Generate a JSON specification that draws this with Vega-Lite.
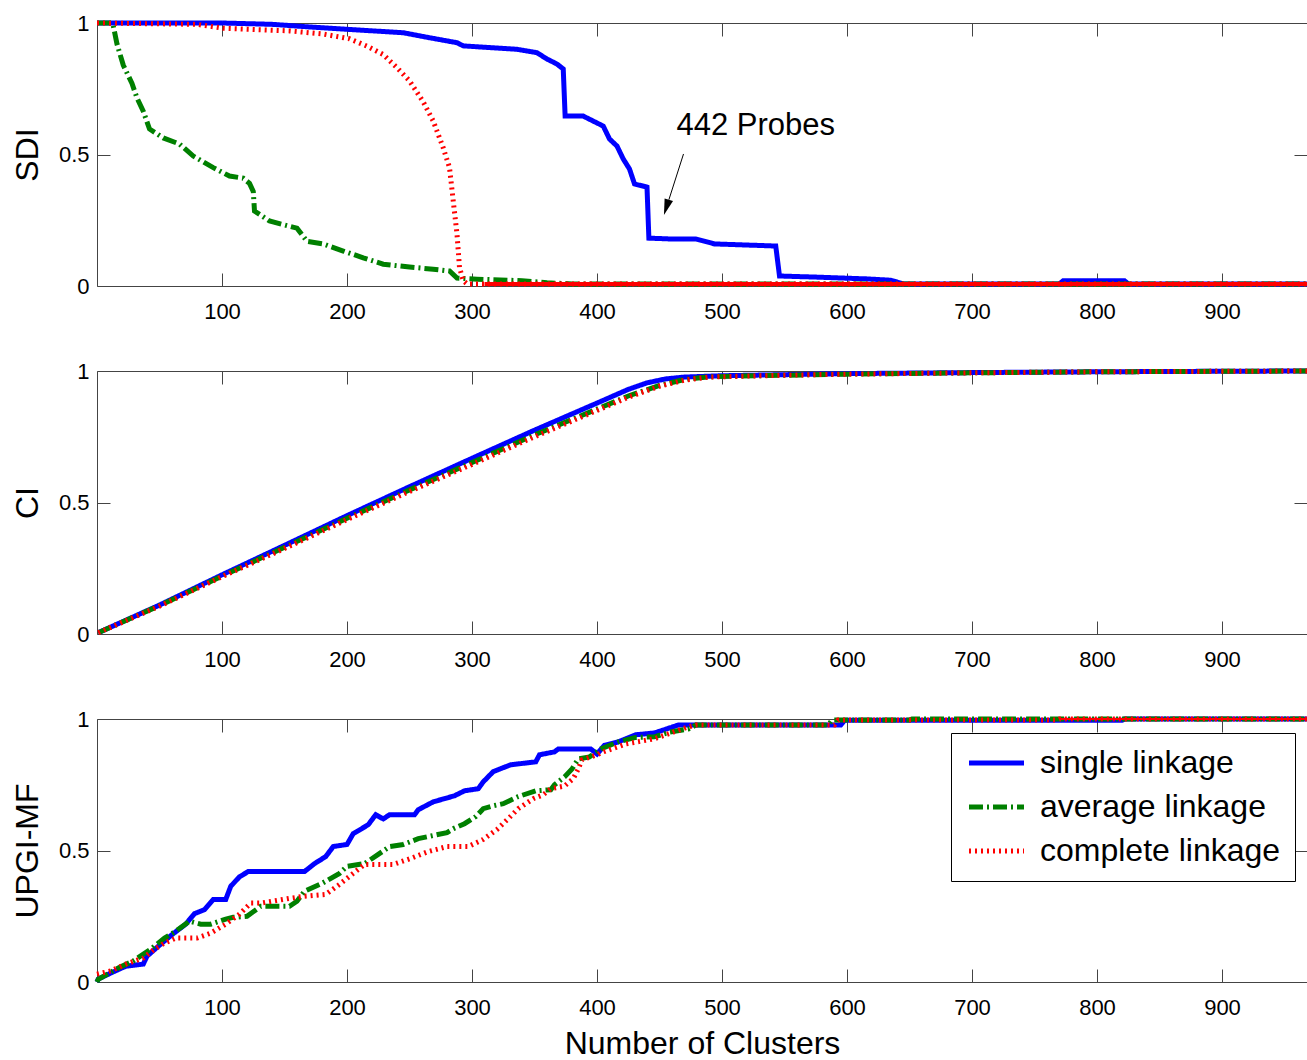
{
  "$schema": "https://vega.github.io/schema/vega-lite/v6.json",
  "padding": {"left": 10, "top": 11, "right": 0, "bottom": 0},
  "background": "white",
  "config": {
    "font": "Liberation Sans",
    "view": {"stroke": "#444", "strokeWidth": 1},
    "axis": {
      "labelFont": "Liberation Sans", "labelFontSize": 22, "labelFontWeight": "normal", "labelColor": "#000",
      "titleFont": "Liberation Sans", "titleFontSize": 32, "titleFontWeight": "normal", "titleColor": "#000",
      "domain": false, "ticks": false, "grid": true, "gridColor": "#444", "gridOpacity": 1, "gridWidth": 1
    },
    "axisX": {"gridDash": [13, 237, 13], "labelPadding": 15, "titlePadding": 10},
    "axisY": {"gridDash": [13, 1184, 13], "labelPadding": 8, "titlePadding": 14, "format": "~g"},
    "line": {"strokeCap": "butt", "strokeJoin": "miter"}
  },
  "datasets": {
    "sdi": [
      {"method": "single linkage", "n": 0, "v": 1}, {"method": "single linkage", "n": 100, "v": 1}, {"method": "single linkage", "n": 140, "v": 0.995}, {"method": "single linkage", "n": 170, "v": 0.985}, {"method": "single linkage", "n": 200, "v": 0.976}, {"method": "single linkage", "n": 245, "v": 0.963}, {"method": "single linkage", "n": 266, "v": 0.944}, {"method": "single linkage", "n": 288, "v": 0.925}, {"method": "single linkage", "n": 293, "v": 0.913}, {"method": "single linkage", "n": 336, "v": 0.9}, {"method": "single linkage", "n": 352, "v": 0.887}, {"method": "single linkage", "n": 360, "v": 0.863}, {"method": "single linkage", "n": 368, "v": 0.844}, {"method": "single linkage", "n": 373, "v": 0.825}, {"method": "single linkage", "n": 374.5, "v": 0.646}, {"method": "single linkage", "n": 389, "v": 0.646}, {"method": "single linkage", "n": 405, "v": 0.608}, {"method": "single linkage", "n": 410, "v": 0.559}, {"method": "single linkage", "n": 416, "v": 0.532}, {"method": "single linkage", "n": 421, "v": 0.483}, {"method": "single linkage", "n": 426, "v": 0.445}, {"method": "single linkage", "n": 430, "v": 0.388}, {"method": "single linkage", "n": 440, "v": 0.376}, {"method": "single linkage", "n": 441.5, "v": 0.182}, {"method": "single linkage", "n": 458, "v": 0.179}, {"method": "single linkage", "n": 479, "v": 0.179}, {"method": "single linkage", "n": 494, "v": 0.16}, {"method": "single linkage", "n": 543, "v": 0.152}, {"method": "single linkage", "n": 546, "v": 0.038}, {"method": "single linkage", "n": 574, "v": 0.034}, {"method": "single linkage", "n": 616, "v": 0.027}, {"method": "single linkage", "n": 635, "v": 0.022}, {"method": "single linkage", "n": 645, "v": 0.008}, {"method": "single linkage", "n": 770, "v": 0.008}, {"method": "single linkage", "n": 773, "v": 0.02}, {"method": "single linkage", "n": 822, "v": 0.02}, {"method": "single linkage", "n": 825, "v": 0.008}, {"method": "single linkage", "n": 968, "v": 0.008},
      {"method": "average linkage", "n": 0, "v": 1}, {"method": "average linkage", "n": 12, "v": 1}, {"method": "average linkage", "n": 13, "v": 0.99}, {"method": "average linkage", "n": 16, "v": 0.92}, {"method": "average linkage", "n": 21, "v": 0.84}, {"method": "average linkage", "n": 28, "v": 0.77}, {"method": "average linkage", "n": 32, "v": 0.715}, {"method": "average linkage", "n": 37, "v": 0.665}, {"method": "average linkage", "n": 42, "v": 0.597}, {"method": "average linkage", "n": 53, "v": 0.563}, {"method": "average linkage", "n": 66, "v": 0.54}, {"method": "average linkage", "n": 77, "v": 0.494}, {"method": "average linkage", "n": 93, "v": 0.45}, {"method": "average linkage", "n": 106, "v": 0.418}, {"method": "average linkage", "n": 117, "v": 0.41}, {"method": "average linkage", "n": 122, "v": 0.39}, {"method": "average linkage", "n": 125, "v": 0.36}, {"method": "average linkage", "n": 126, "v": 0.285}, {"method": "average linkage", "n": 138, "v": 0.247}, {"method": "average linkage", "n": 160, "v": 0.22}, {"method": "average linkage", "n": 168, "v": 0.17}, {"method": "average linkage", "n": 181, "v": 0.16}, {"method": "average linkage", "n": 197, "v": 0.133}, {"method": "average linkage", "n": 213, "v": 0.107}, {"method": "average linkage", "n": 229, "v": 0.083}, {"method": "average linkage", "n": 250, "v": 0.072}, {"method": "average linkage", "n": 269, "v": 0.064}, {"method": "average linkage", "n": 282, "v": 0.057}, {"method": "average linkage", "n": 288, "v": 0.03}, {"method": "average linkage", "n": 304, "v": 0.026}, {"method": "average linkage", "n": 340, "v": 0.02}, {"method": "average linkage", "n": 360, "v": 0.012}, {"method": "average linkage", "n": 380, "v": 0.008}, {"method": "average linkage", "n": 968, "v": 0.008},
      {"method": "complete linkage", "n": 0, "v": 1}, {"method": "complete linkage", "n": 80, "v": 0.995}, {"method": "complete linkage", "n": 101, "v": 0.98}, {"method": "complete linkage", "n": 154, "v": 0.97}, {"method": "complete linkage", "n": 181, "v": 0.958}, {"method": "complete linkage", "n": 202, "v": 0.94}, {"method": "complete linkage", "n": 216, "v": 0.912}, {"method": "complete linkage", "n": 229, "v": 0.88}, {"method": "complete linkage", "n": 240, "v": 0.83}, {"method": "complete linkage", "n": 250, "v": 0.78}, {"method": "complete linkage", "n": 261, "v": 0.7}, {"method": "complete linkage", "n": 269, "v": 0.627}, {"method": "complete linkage", "n": 277, "v": 0.525}, {"method": "complete linkage", "n": 282, "v": 0.45}, {"method": "complete linkage", "n": 285, "v": 0.323}, {"method": "complete linkage", "n": 288, "v": 0.197}, {"method": "complete linkage", "n": 290, "v": 0.07}, {"method": "complete linkage", "n": 293, "v": 0.02}, {"method": "complete linkage", "n": 296, "v": 0.008}, {"method": "complete linkage", "n": 310, "v": 0.008}, {"method": "complete linkage", "n": 968, "v": 0.008}
    ],
    "ci": [
      {"method": "single linkage", "n": 1, "v": 0.005}, {"method": "single linkage", "n": 50, "v": 0.11}, {"method": "single linkage", "n": 100, "v": 0.225}, {"method": "single linkage", "n": 150, "v": 0.337}, {"method": "single linkage", "n": 200, "v": 0.45}, {"method": "single linkage", "n": 250, "v": 0.56}, {"method": "single linkage", "n": 300, "v": 0.668}, {"method": "single linkage", "n": 350, "v": 0.775}, {"method": "single linkage", "n": 400, "v": 0.878}, {"method": "single linkage", "n": 425, "v": 0.93}, {"method": "single linkage", "n": 440, "v": 0.955}, {"method": "single linkage", "n": 455, "v": 0.97}, {"method": "single linkage", "n": 470, "v": 0.977}, {"method": "single linkage", "n": 500, "v": 0.982}, {"method": "single linkage", "n": 550, "v": 0.986}, {"method": "single linkage", "n": 600, "v": 0.99}, {"method": "single linkage", "n": 700, "v": 0.994}, {"method": "single linkage", "n": 800, "v": 0.997}, {"method": "single linkage", "n": 900, "v": 0.999}, {"method": "single linkage", "n": 968, "v": 1},
      {"method": "average linkage", "n": 1, "v": 0.005}, {"method": "average linkage", "n": 50, "v": 0.108}, {"method": "average linkage", "n": 100, "v": 0.22}, {"method": "average linkage", "n": 150, "v": 0.33}, {"method": "average linkage", "n": 200, "v": 0.44}, {"method": "average linkage", "n": 250, "v": 0.548}, {"method": "average linkage", "n": 300, "v": 0.652}, {"method": "average linkage", "n": 350, "v": 0.757}, {"method": "average linkage", "n": 400, "v": 0.855}, {"method": "average linkage", "n": 425, "v": 0.905}, {"method": "average linkage", "n": 450, "v": 0.945}, {"method": "average linkage", "n": 470, "v": 0.968}, {"method": "average linkage", "n": 490, "v": 0.978}, {"method": "average linkage", "n": 550, "v": 0.984}, {"method": "average linkage", "n": 600, "v": 0.988}, {"method": "average linkage", "n": 700, "v": 0.993}, {"method": "average linkage", "n": 800, "v": 0.997}, {"method": "average linkage", "n": 968, "v": 1},
      {"method": "complete linkage", "n": 1, "v": 0.005}, {"method": "complete linkage", "n": 50, "v": 0.106}, {"method": "complete linkage", "n": 100, "v": 0.218}, {"method": "complete linkage", "n": 150, "v": 0.325}, {"method": "complete linkage", "n": 200, "v": 0.435}, {"method": "complete linkage", "n": 250, "v": 0.542}, {"method": "complete linkage", "n": 300, "v": 0.645}, {"method": "complete linkage", "n": 350, "v": 0.75}, {"method": "complete linkage", "n": 400, "v": 0.85}, {"method": "complete linkage", "n": 425, "v": 0.9}, {"method": "complete linkage", "n": 450, "v": 0.942}, {"method": "complete linkage", "n": 470, "v": 0.965}, {"method": "complete linkage", "n": 490, "v": 0.977}, {"method": "complete linkage", "n": 550, "v": 0.984}, {"method": "complete linkage", "n": 600, "v": 0.988}, {"method": "complete linkage", "n": 700, "v": 0.993}, {"method": "complete linkage", "n": 800, "v": 0.997}, {"method": "complete linkage", "n": 968, "v": 1}
    ],
    "upgi": [
      {"method": "single linkage", "n": 0, "v": 0}, {"method": "single linkage", "n": 1, "v": 0.011}, {"method": "single linkage", "n": 11, "v": 0.034}, {"method": "single linkage", "n": 23, "v": 0.06}, {"method": "single linkage", "n": 37, "v": 0.068}, {"method": "single linkage", "n": 40, "v": 0.098}, {"method": "single linkage", "n": 51, "v": 0.144}, {"method": "single linkage", "n": 60, "v": 0.18}, {"method": "single linkage", "n": 71, "v": 0.22}, {"method": "single linkage", "n": 78, "v": 0.26}, {"method": "single linkage", "n": 86, "v": 0.275}, {"method": "single linkage", "n": 93, "v": 0.314}, {"method": "single linkage", "n": 103, "v": 0.314}, {"method": "single linkage", "n": 107, "v": 0.364}, {"method": "single linkage", "n": 114, "v": 0.4}, {"method": "single linkage", "n": 121, "v": 0.42}, {"method": "single linkage", "n": 166, "v": 0.42}, {"method": "single linkage", "n": 174, "v": 0.45}, {"method": "single linkage", "n": 183, "v": 0.477}, {"method": "single linkage", "n": 189, "v": 0.515}, {"method": "single linkage", "n": 200, "v": 0.523}, {"method": "single linkage", "n": 205, "v": 0.564}, {"method": "single linkage", "n": 217, "v": 0.598}, {"method": "single linkage", "n": 223, "v": 0.636}, {"method": "single linkage", "n": 229, "v": 0.62}, {"method": "single linkage", "n": 234, "v": 0.636}, {"method": "single linkage", "n": 254, "v": 0.636}, {"method": "single linkage", "n": 257, "v": 0.655}, {"method": "single linkage", "n": 269, "v": 0.685}, {"method": "single linkage", "n": 286, "v": 0.708}, {"method": "single linkage", "n": 294, "v": 0.727}, {"method": "single linkage", "n": 305, "v": 0.735}, {"method": "single linkage", "n": 309, "v": 0.761}, {"method": "single linkage", "n": 317, "v": 0.8}, {"method": "single linkage", "n": 331, "v": 0.826}, {"method": "single linkage", "n": 351, "v": 0.837}, {"method": "single linkage", "n": 354, "v": 0.864}, {"method": "single linkage", "n": 366, "v": 0.875}, {"method": "single linkage", "n": 369, "v": 0.886}, {"method": "single linkage", "n": 395, "v": 0.886}, {"method": "single linkage", "n": 400, "v": 0.867}, {"method": "single linkage", "n": 406, "v": 0.9}, {"method": "single linkage", "n": 417, "v": 0.913}, {"method": "single linkage", "n": 431, "v": 0.94}, {"method": "single linkage", "n": 446, "v": 0.947}, {"method": "single linkage", "n": 465, "v": 0.977}, {"method": "single linkage", "n": 595, "v": 0.977}, {"method": "single linkage", "n": 598, "v": 0.995}, {"method": "single linkage", "n": 820, "v": 0.995}, {"method": "single linkage", "n": 822, "v": 1}, {"method": "single linkage", "n": 968, "v": 1},
      {"method": "average linkage", "n": 0, "v": 0}, {"method": "average linkage", "n": 1, "v": 0.01}, {"method": "average linkage", "n": 17, "v": 0.053}, {"method": "average linkage", "n": 29, "v": 0.08}, {"method": "average linkage", "n": 43, "v": 0.125}, {"method": "average linkage", "n": 54, "v": 0.167}, {"method": "average linkage", "n": 63, "v": 0.193}, {"method": "average linkage", "n": 74, "v": 0.231}, {"method": "average linkage", "n": 83, "v": 0.22}, {"method": "average linkage", "n": 91, "v": 0.22}, {"method": "average linkage", "n": 103, "v": 0.239}, {"method": "average linkage", "n": 109, "v": 0.246}, {"method": "average linkage", "n": 120, "v": 0.25}, {"method": "average linkage", "n": 131, "v": 0.288}, {"method": "average linkage", "n": 154, "v": 0.288}, {"method": "average linkage", "n": 160, "v": 0.307}, {"method": "average linkage", "n": 166, "v": 0.345}, {"method": "average linkage", "n": 180, "v": 0.375}, {"method": "average linkage", "n": 194, "v": 0.413}, {"method": "average linkage", "n": 200, "v": 0.44}, {"method": "average linkage", "n": 214, "v": 0.45}, {"method": "average linkage", "n": 225, "v": 0.485}, {"method": "average linkage", "n": 234, "v": 0.515}, {"method": "average linkage", "n": 245, "v": 0.523}, {"method": "average linkage", "n": 257, "v": 0.545}, {"method": "average linkage", "n": 280, "v": 0.568}, {"method": "average linkage", "n": 285, "v": 0.583}, {"method": "average linkage", "n": 294, "v": 0.602}, {"method": "average linkage", "n": 303, "v": 0.629}, {"method": "average linkage", "n": 309, "v": 0.659}, {"method": "average linkage", "n": 317, "v": 0.67}, {"method": "average linkage", "n": 325, "v": 0.678}, {"method": "average linkage", "n": 337, "v": 0.705}, {"method": "average linkage", "n": 351, "v": 0.727}, {"method": "average linkage", "n": 363, "v": 0.731}, {"method": "average linkage", "n": 366, "v": 0.75}, {"method": "average linkage", "n": 374, "v": 0.78}, {"method": "average linkage", "n": 380, "v": 0.81}, {"method": "average linkage", "n": 385, "v": 0.848}, {"method": "average linkage", "n": 394, "v": 0.856}, {"method": "average linkage", "n": 403, "v": 0.886}, {"method": "average linkage", "n": 417, "v": 0.913}, {"method": "average linkage", "n": 431, "v": 0.93}, {"method": "average linkage", "n": 446, "v": 0.932}, {"method": "average linkage", "n": 458, "v": 0.95}, {"method": "average linkage", "n": 473, "v": 0.962}, {"method": "average linkage", "n": 479, "v": 0.977}, {"method": "average linkage", "n": 585, "v": 0.977}, {"method": "average linkage", "n": 588, "v": 0.996}, {"method": "average linkage", "n": 650, "v": 0.996}, {"method": "average linkage", "n": 652, "v": 1}, {"method": "average linkage", "n": 968, "v": 1},
      {"method": "complete linkage", "n": 0, "v": 0.03}, {"method": "complete linkage", "n": 11, "v": 0.042}, {"method": "complete linkage", "n": 23, "v": 0.068}, {"method": "complete linkage", "n": 37, "v": 0.091}, {"method": "complete linkage", "n": 46, "v": 0.125}, {"method": "complete linkage", "n": 54, "v": 0.148}, {"method": "complete linkage", "n": 63, "v": 0.167}, {"method": "complete linkage", "n": 80, "v": 0.167}, {"method": "complete linkage", "n": 91, "v": 0.186}, {"method": "complete linkage", "n": 103, "v": 0.22}, {"method": "complete linkage", "n": 114, "v": 0.258}, {"method": "complete linkage", "n": 123, "v": 0.3}, {"method": "complete linkage", "n": 131, "v": 0.3}, {"method": "complete linkage", "n": 154, "v": 0.318}, {"method": "complete linkage", "n": 166, "v": 0.326}, {"method": "complete linkage", "n": 183, "v": 0.333}, {"method": "complete linkage", "n": 194, "v": 0.371}, {"method": "complete linkage", "n": 205, "v": 0.413}, {"method": "complete linkage", "n": 214, "v": 0.447}, {"method": "complete linkage", "n": 237, "v": 0.447}, {"method": "complete linkage", "n": 251, "v": 0.47}, {"method": "complete linkage", "n": 265, "v": 0.496}, {"method": "complete linkage", "n": 280, "v": 0.515}, {"method": "complete linkage", "n": 297, "v": 0.515}, {"method": "complete linkage", "n": 309, "v": 0.542}, {"method": "complete linkage", "n": 320, "v": 0.58}, {"method": "complete linkage", "n": 329, "v": 0.621}, {"method": "complete linkage", "n": 337, "v": 0.659}, {"method": "complete linkage", "n": 349, "v": 0.697}, {"method": "complete linkage", "n": 357, "v": 0.712}, {"method": "complete linkage", "n": 363, "v": 0.735}, {"method": "complete linkage", "n": 374, "v": 0.745}, {"method": "complete linkage", "n": 381, "v": 0.773}, {"method": "complete linkage", "n": 385, "v": 0.81}, {"method": "complete linkage", "n": 388, "v": 0.845}, {"method": "complete linkage", "n": 400, "v": 0.864}, {"method": "complete linkage", "n": 405, "v": 0.875}, {"method": "complete linkage", "n": 423, "v": 0.905}, {"method": "complete linkage", "n": 446, "v": 0.925}, {"method": "complete linkage", "n": 461, "v": 0.95}, {"method": "complete linkage", "n": 473, "v": 0.97}, {"method": "complete linkage", "n": 479, "v": 0.977}, {"method": "complete linkage", "n": 590, "v": 0.977}, {"method": "complete linkage", "n": 593, "v": 0.996}, {"method": "complete linkage", "n": 768, "v": 0.996}, {"method": "complete linkage", "n": 770, "v": 1}, {"method": "complete linkage", "n": 968, "v": 1}
    ],
    "note": [{"n": 527, "v": 0.608, "label": "442 Probes"}],
    "arrow": [{"n": 469.2, "v": 0.502, "n2": 457.5, "v2": 0.328}],
    "head": [{"n": 455.5, "v": 0.299}]
  },
  "spacing": 85,
  "bounds": "flush",
  "resolve": {
    "scale": {"color": "independent", "strokeDash": "independent", "strokeWidth": "independent"},
    "legend": {"color": "independent", "strokeDash": "independent", "strokeWidth": "independent"}
  },
  "vconcat": [
    {
      "width": 1210, "height": 263,
      "encoding": {
        "x": {"field": "n", "type": "quantitative", "scale": {"domain": [0, 968], "nice": false, "zero": false}, "axis": {"values": [100, 200, 300, 400, 500, 600, 700, 800, 900], "title": null}},
        "y": {"field": "v", "type": "quantitative", "scale": {"domain": [0, 1], "nice": false}, "axis": {"values": [0, 0.5, 1], "title": "SDI"}}
      },
      "layer": [
        {"data": {"name": "sdi"}, "transform": [{"filter": "datum.method === 'single linkage'"}], "mark": {"type": "line"},
         "encoding": {
           "color": {"field": "method", "type": "nominal", "scale": {"domain": ["single linkage", "average linkage", "complete linkage"], "range": ["#0000ff", "#008000", "#ff0000"]}, "legend": null},
           "strokeDash": {"field": "method", "type": "nominal", "scale": {"domain": ["single linkage", "average linkage", "complete linkage"], "range": [[1, 0], [14, 4, 2, 4], [2, 4]]}, "legend": null},
           "strokeWidth": {"field": "method", "type": "nominal", "scale": {"domain": ["single linkage", "average linkage", "complete linkage"], "range": [5, 5, 2]}, "legend": null}}},
        {"data": {"name": "sdi"}, "transform": [{"filter": "datum.method === 'average linkage'"}], "mark": {"type": "line"},
         "encoding": {
           "color": {"field": "method", "type": "nominal", "legend": null},
           "strokeDash": {"field": "method", "type": "nominal", "legend": null},
           "strokeWidth": {"field": "method", "type": "nominal", "legend": null}}},
        {"data": {"name": "sdi"}, "transform": [{"filter": "datum.method === 'complete linkage'"}], "mark": {"type": "line"},
         "encoding": {
           "color": {"field": "method", "type": "nominal", "legend": null},
           "strokeDash": {"field": "method", "type": "nominal", "legend": null},
           "strokeWidth": {"field": "method", "type": "nominal", "legend": null}}},
        {"data": {"name": "sdi"}, "transform": [{"filter": "datum.method === 'complete linkage' && datum.n >= 310"}], "mark": {"type": "line", "color": "#ff0000", "strokeWidth": 4}},
        {"data": {"name": "note"}, "mark": {"type": "text", "fontSize": 31, "font": "Liberation Sans", "color": "#000", "align": "center", "baseline": "middle"}, "encoding": {"text": {"field": "label"}}},
        {"data": {"name": "arrow"}, "mark": {"type": "rule", "color": "#000", "strokeWidth": 1}, "encoding": {"x2": {"field": "n2"}, "y2": {"field": "v2"}}},
        {"data": {"name": "head"}, "mark": {"type": "point", "shape": "M0,1L-0.55,-1L0.55,-1Z", "size": 256, "filled": true, "color": "#000", "opacity": 1, "angle": 17.7}}
      ]
    },
    {
      "width": 1210, "height": 263,
      "encoding": {
        "x": {"field": "n", "type": "quantitative", "scale": {"domain": [0, 968], "nice": false, "zero": false}, "axis": {"values": [100, 200, 300, 400, 500, 600, 700, 800, 900], "title": null}},
        "y": {"field": "v", "type": "quantitative", "scale": {"domain": [0, 1], "nice": false}, "axis": {"values": [0, 0.5, 1], "title": "CI"}}
      },
      "layer": [
        {"data": {"name": "ci"}, "transform": [{"filter": "datum.method === 'single linkage'"}], "mark": {"type": "line"},
         "encoding": {
           "color": {"field": "method", "type": "nominal", "scale": {"domain": ["single linkage", "average linkage", "complete linkage"], "range": ["#0000ff", "#008000", "#ff0000"]}, "legend": null},
           "strokeDash": {"field": "method", "type": "nominal", "scale": {"domain": ["single linkage", "average linkage", "complete linkage"], "range": [[1, 0], [14, 4, 2, 4], [2, 4]]}, "legend": null},
           "strokeWidth": {"field": "method", "type": "nominal", "scale": {"domain": ["single linkage", "average linkage", "complete linkage"], "range": [5, 5, 2]}, "legend": null}}},
        {"data": {"name": "ci"}, "transform": [{"filter": "datum.method === 'average linkage'"}], "mark": {"type": "line"},
         "encoding": {
           "color": {"field": "method", "type": "nominal", "legend": null},
           "strokeDash": {"field": "method", "type": "nominal", "legend": null},
           "strokeWidth": {"field": "method", "type": "nominal", "legend": null}}},
        {"data": {"name": "ci"}, "transform": [{"filter": "datum.method === 'complete linkage'"}], "mark": {"type": "line"},
         "encoding": {
           "color": {"field": "method", "type": "nominal", "legend": null},
           "strokeDash": {"field": "method", "type": "nominal", "legend": null},
           "strokeWidth": {"field": "method", "type": "nominal", "legend": null}}}
      ]
    },
    {
      "width": 1210, "height": 263,
      "encoding": {
        "x": {"field": "n", "type": "quantitative", "scale": {"domain": [0, 968], "nice": false, "zero": false}, "axis": {"values": [100, 200, 300, 400, 500, 600, 700, 800, 900], "title": "Number of Clusters"}},
        "y": {"field": "v", "type": "quantitative", "scale": {"domain": [0, 1], "nice": false}, "axis": {"values": [0, 0.5, 1], "title": "UPGI-MF"}}
      },
      "layer": [
        {"data": {"name": "upgi"}, "transform": [{"filter": "datum.method === 'single linkage'"}], "mark": {"type": "line"},
         "encoding": {
           "color": {"field": "method", "type": "nominal", "scale": {"domain": ["single linkage", "average linkage", "complete linkage"], "range": ["#0000ff", "#008000", "#ff0000"]},
             "legend": {"orient": "none", "legendX": 854, "legendY": 14, "title": null, "symbolType": "M-2.4,0L8.6,0", "symbolSize": 100, "labelFontSize": 32, "labelFont": "Liberation Sans", "labelColor": "#000", "labelOffset": 43, "labelLimit": 500, "rowPadding": 12, "padding": 14, "strokeColor": "#000", "fillColor": "#fff"}},
           "strokeDash": {"field": "method", "type": "nominal", "scale": {"domain": ["single linkage", "average linkage", "complete linkage"], "range": [[1, 0], [14, 4, 2, 4], [2, 4]]},
             "legend": {"orient": "none", "legendX": 854, "legendY": 14, "title": null, "symbolType": "M-2.4,0L8.6,0", "symbolSize": 100, "labelFontSize": 32, "labelFont": "Liberation Sans", "labelColor": "#000", "labelOffset": 43, "labelLimit": 500, "rowPadding": 12, "padding": 14, "strokeColor": "#000", "fillColor": "#fff"}},
           "strokeWidth": {"field": "method", "type": "nominal", "scale": {"domain": ["single linkage", "average linkage", "complete linkage"], "range": [5, 5, 2]},
             "legend": {"orient": "none", "legendX": 854, "legendY": 14, "title": null, "symbolType": "M-2.4,0L8.6,0", "symbolSize": 100, "labelFontSize": 32, "labelFont": "Liberation Sans", "labelColor": "#000", "labelOffset": 43, "labelLimit": 500, "rowPadding": 12, "padding": 14, "strokeColor": "#000", "fillColor": "#fff"}}}},
        {"data": {"name": "upgi"}, "transform": [{"filter": "datum.method === 'average linkage'"}], "mark": {"type": "line"},
         "encoding": {
           "color": {"field": "method", "type": "nominal"},
           "strokeDash": {"field": "method", "type": "nominal"},
           "strokeWidth": {"field": "method", "type": "nominal"}}},
        {"data": {"name": "upgi"}, "transform": [{"filter": "datum.method === 'complete linkage'"}], "mark": {"type": "line"},
         "encoding": {
           "color": {"field": "method", "type": "nominal"},
           "strokeDash": {"field": "method", "type": "nominal"},
           "strokeWidth": {"field": "method", "type": "nominal"}}},
        {"data": {"name": "upgi"}, "transform": [{"filter": "datum.method === 'complete linkage' && datum.n >= 770"}], "mark": {"type": "line", "color": "#ff0000", "strokeWidth": 2}}
      ]
    }
  ]
}
